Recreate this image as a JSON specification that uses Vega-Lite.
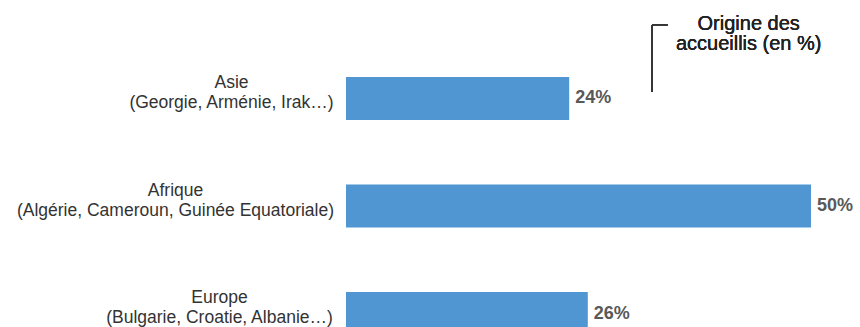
{
  "$schema": "https://vega.github.io/schema/vega-lite/v6.json",
  "autosize": "none",
  "padding": {"left": 346, "top": 0, "right": 0, "bottom": 0},
  "width": 514,
  "height": 412,
  "background": "white",
  "config": {"view": {"stroke": null}},
  "data": {
    "values": [
      {"region": "Asie\n(Georgie, Arménie, Irak…)", "valeur": 24, "etiquette": "24%"},
      {"region": "Afrique\n(Algérie, Cameroun, Guinée Equatoriale)", "valeur": 50, "etiquette": "50%"},
      {"region": "Europe\n(Bulgarie, Croatie, Albanie…)", "valeur": 26, "etiquette": "26%"}
    ]
  },
  "encoding": {
    "y": {
      "field": "region",
      "type": "nominal",
      "sort": null,
      "scale": {"paddingInner": 0.6, "paddingOuter": 0.716},
      "axis": {
        "title": null,
        "domain": false,
        "ticks": false,
        "tickSize": 0,
        "labelExpr": "split(datum.label, '\\n')",
        "labelAlign": "center",
        "labelBaseline": "middle",
        "labelFont": "Liberation Sans",
        "labelFontSize": 17.5,
        "labelColor": "#333333",
        "labelLineHeight": 20,
        "labelOffset": -15.5,
        "labelLimit": 0,
        "labelPadding": {
          "condition": [
            {"test": "indexof(datum.value, 'Asie') == 0", "value": 115},
            {"test": "indexof(datum.value, 'Afrique') == 0", "value": 171}
          ],
          "value": 127
        }
      }
    }
  },
  "layer": [
    {
      "mark": {"type": "bar", "color": "#4f96d3"},
      "encoding": {
        "x": {"field": "valeur", "type": "quantitative", "scale": {"domain": [0, 55.27], "nice": false}, "axis": null}
      }
    },
    {
      "mark": {"type": "text", "align": "left", "baseline": "middle", "dx": 6, "font": "Liberation Sans", "fontWeight": "bold", "fontSize": 18, "color": "#595959"},
      "encoding": {
        "x": {"field": "valeur", "type": "quantitative"},
        "text": {"field": "etiquette"}
      }
    },
    {
      "mark": {"type": "rule", "color": "#333333", "strokeWidth": 1.5},
      "encoding": {
        "x": {"datum": 32.9},
        "y": {"datum": "Asie\n(Georgie, Arménie, Irak…)", "bandPosition": -1.21},
        "y2": {"datum": "Asie\n(Georgie, Arménie, Irak…)", "bandPosition": 0.35}
      }
    },
    {
      "mark": {"type": "rule", "color": "#333333", "strokeWidth": 1.5},
      "encoding": {
        "x": {"datum": 32.9},
        "x2": {"datum": 34.6},
        "y": {"datum": "Asie\n(Georgie, Arménie, Irak…)", "bandPosition": -1.21}
      }
    },
    {
      "mark": {"type": "text", "text": ["Origine des", "accueillis (en %)"], "align": "center", "baseline": "middle", "font": "Liberation Sans", "fontSize": 20, "lineHeight": 20, "color": "#222222"},
      "encoding": {
        "x": {"datum": 43.3},
        "y": {"datum": "Asie\n(Georgie, Arménie, Irak…)", "bandPosition": -1.233}
      }
    }
  ]
}
